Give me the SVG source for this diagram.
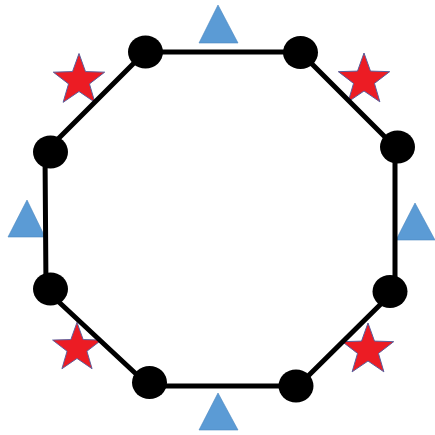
<svg xmlns="http://www.w3.org/2000/svg" width="435" height="435" viewBox="0 0 435 435">
  <style>
    .tri { fill: #5B9BD5; stroke: #4A86BF; stroke-width: 0.6; }
    .star { fill: #EC1C24; stroke: #5A5E9C; stroke-width: 1; stroke-linejoin: miter; }
    .edge { fill: none; stroke: #000; stroke-width: 5; stroke-linejoin: round; }
    .dot { fill: #000; }
  </style>
  <defs>
    <path id="starShape" d="M0,-27 L6.47,-8.9 L25.68,-8.34 L10.46,3.4 L15.87,21.84 L0,11 L-15.87,21.84 L-10.46,3.4 L-25.68,-8.34 L-6.47,-8.9 Z"/>
  </defs>
  <rect width="435" height="435" fill="#fff"/>

  <g id="triangles">
    <polygon id="tri-top" class="tri" points="218,5 199,43 238,43"/>
    <polygon id="tri-left" class="tri" points="27,200 8,237 45,237"/>
    <polygon id="tri-right" class="tri" points="415,203 396,240 435,240"/>
    <polygon id="tri-bottom" class="tri" points="218,393 199,430 238,430"/>
  </g>

  <g id="stars">
    <use id="star-tl" href="#starShape" class="star" transform="translate(79,80.5)"/>
    <use id="star-tr" href="#starShape" class="star" transform="translate(364,80)"/>
    <use id="star-bl" href="#starShape" class="star" transform="translate(77,348) scale(0.95)"/>
    <use id="star-br" href="#starShape" class="star" transform="translate(368,350)"/>
  </g>

  <g id="connectors">
    <polygon class="edge" points="145,52 300,52 395,147 395,290 298,386 149,386 46,290 45,152"/>
  </g>

  <g id="node-tl"><ellipse class="dot" cx="145.5" cy="52" rx="17.5" ry="16.5"/></g>
  <g id="node-tr"><ellipse class="dot" cx="300.5" cy="52.5" rx="17.5" ry="16.5"/></g>
  <g id="node-ru"><ellipse class="dot" cx="397.5" cy="147" rx="17.5" ry="16.5"/></g>
  <g id="node-rl"><ellipse class="dot" cx="390" cy="291.5" rx="17.5" ry="16.5"/></g>
  <g id="node-br"><ellipse class="dot" cx="296" cy="386" rx="17.5" ry="16.5"/></g>
  <g id="node-bl"><ellipse class="dot" cx="149.5" cy="382.5" rx="17.5" ry="16.5"/></g>
  <g id="node-ll"><ellipse class="dot" cx="50.5" cy="289" rx="17.5" ry="16.5"/></g>
  <g id="node-lu"><ellipse class="dot" cx="50.5" cy="152" rx="17.5" ry="16.5"/></g>
</svg>
